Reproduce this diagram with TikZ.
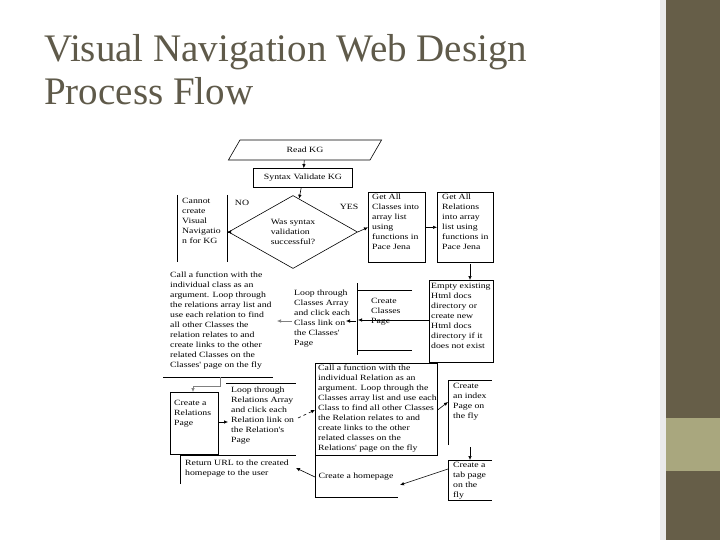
\documentclass[tikz,border=0pt]{standalone}
\usepackage{fontspec}
\setmainfont{Liberation Serif}
\newfontfamily\dfont[FakeStretch=1.22]{Liberation Serif}
\usetikzlibrary{arrows.meta,shapes.geometric}
\begin{document}
\begin{tikzpicture}[x=1pt,y=-1pt,
  box/.style={draw,line width=0.6pt},
  txt/.style={anchor=north west,align=left,inner sep=0pt,font=\dfont\fontsize{8}{10}\selectfont},
  arr/.style={-{Latex[length=4pt,width=3.5pt]},line width=0.6pt}]
\useasboundingbox (0,0) rectangle (720,540);
\fill[white!92!black] (660,0) rectangle (666,540);
\fill[white] (0,0) rectangle (660,540);
\fill[fill={rgb,255:red,102;green,94;blue,72}] (666,0) rectangle (720,540);
\fill[fill={rgb,255:red,169;green,167;blue,126}] (666,418) rectangle (720,471);
\node[anchor=base west,align=left,inner sep=0pt,text={rgb,255:red,95;green,90;blue,74},font=\fontsize{39}{43}\selectfont] (title) at (44,105) {Visual Navigation Web Design\\Process Flow};
% top
\node[trapezium,trapezium left angle=60,trapezium right angle=120,draw,line width=0.6pt,minimum width=92pt,minimum height=20pt,inner sep=0pt,font=\dfont\fontsize{8}{9}\selectfont] (read) at (305,150) {Read KG};
\node[box,minimum width=99pt,minimum height=19pt,inner sep=0pt,font=\dfont\fontsize{8}{9}\selectfont] (syn) at (303,178) {Syntax Validate KG};
\node[diamond,draw,line width=0.6pt,aspect=1.75,minimum width=129pt,minimum height=73pt,inner sep=0pt,align=left,font=\dfont\fontsize{8}{10}\selectfont] (dia) at (293,232) {Was syntax\\validation\\successful?};
\draw[arr] (read) -- (syn);
\draw[arr] (syn) -- (dia);
% cannot
\coordinate (cl) at (227,232);
\draw[line width=0.6pt] (177,195) -- (177,262) (227,195) -- (227,262);
\node[txt] (cannot) at (182,198) {Cannot\\create\\Visual\\Navigatio\\n for KG};
\draw[arr] (dia.west) -- (cl);
\node[font=\dfont\fontsize{8}{9}\selectfont] (no) at (242,203) {NO};
\node[font=\dfont\fontsize{8}{9}\selectfont] (yes) at (349,207) {YES};
% classes/relations
\node[box,minimum width=57pt,minimum height=70pt,anchor=north west,inner sep=0pt] (gc) at (368,192) {};
\node[txt] (gct) at (372,194) {Get All\\Classes into\\array list\\using\\functions in\\Pace Jena};
\draw[arr] (dia.east) -- (gc.west);
\node[box,minimum width=56pt,minimum height=70pt,anchor=north west,inner sep=0pt] (gr) at (437,192) {};
\node[txt] (grt) at (442,194) {Get All\\Relations\\into array\\list using\\functions in\\Pace Jena};
\draw[arr] (gc.east) -- (gr.west);
\node[box,minimum width=64pt,minimum height=82pt,anchor=north west,inner sep=0pt] (emp) at (429,280) {};
\node[txt] (empt) at (431,283) {Empty existing\\Html docs\\directory or\\create new\\Html docs\\directory if it\\does not exist};
\draw[arr] (470,264) -- (470,280);
% create classes
\draw[line width=0.6pt] (412,290) -- (357,290) (357,283) -- (357,355) (357,350) -- (412,350);
\node[txt] (ccpt) at (371,298) {Create\\Classes\\Page};
\draw[arr] (emp.west |- 0,320) -- (358,320);
\node[txt] (lc) at (294,290) {Loop through\\Classes Array\\and click each\\Class link on\\the Classes'\\Page};
\draw[arr] (356,321) -- (346,321);
\node[txt] (cf) at (170,272) {Call a function with the\\individual class as an\\argument. Loop through\\the relations array list and\\use each relation to find\\all other Classes the\\relation relates to and\\create links to the other\\related Classes on the\\Classes' page on the fly};
\draw[arr,gray] (292,321) -- (277,321);
\draw[line width=0.6pt] (163,377) -- (273,377);
% relations page
\node[box,minimum width=48pt,minimum height=62pt,anchor=north west,inner sep=0pt] (rp) at (170,392) {};
\node[txt] (rpt) at (174,400) {Create a\\Relations\\Page};
\draw[arr,gray] (220,377) -- (220,386) -- (193,386) -- (rp.north -| 193,0);
\draw[line width=0.6pt] (226,383) -- (296,383);
\node[txt] (lr) at (231,387) {Loop through\\Relations Array\\and click each\\Relation link on\\the Relation's\\Page};
\draw[arr] (rp.east |- 0,422) -- (228,422);
% relation function
\node[box,minimum width=122pt,minimum height=92pt,anchor=north west,inner sep=0pt] (rf) at (315,363) {};
\node[txt] (rft) at (318,365) {Call a function with the\\individual Relation as an\\argument. Loop through the\\Classes array list and use each\\Class to find all other Classes\\the Relation relates to and\\create links to the other\\related classes on the\\Relations' page on the fly};
\draw[arr,dashed] (298,418) -- (rf.west |- 0,410);
\draw[line width=0.6pt] (448,445) -- (448,380) -- (492,380);
\node[txt] (idxt) at (453,383) {Create\\an index\\Page on\\the fly};
\draw[arr] (rf.east |- 0,410) -- (448,402);
\draw[line width=0.6pt] (492,460) -- (448,460) -- (448,500) -- (492,500);
\node[txt] (tabt) at (453,462) {Create a\\tab page\\on the\\fly};
\draw[arr] (470,447) -- (470,460);
% homepage
\draw[line width=0.6pt] (315,455) -- (315,497) -- (398,497);
\node[font=\dfont\fontsize{8}{9}\selectfont] (hpt) at (356,477) {Create a homepage};
\draw[arr] (448,469) -- (400,485);
\draw[line width=0.6pt] (180,484) -- (180,455) -- (296,455);
\node[txt] (rett) at (185,460) {Return URL to the created\\homepage to the user};
\draw[arr] (315,477) -- (296,468);
\end{tikzpicture}
\end{document}
